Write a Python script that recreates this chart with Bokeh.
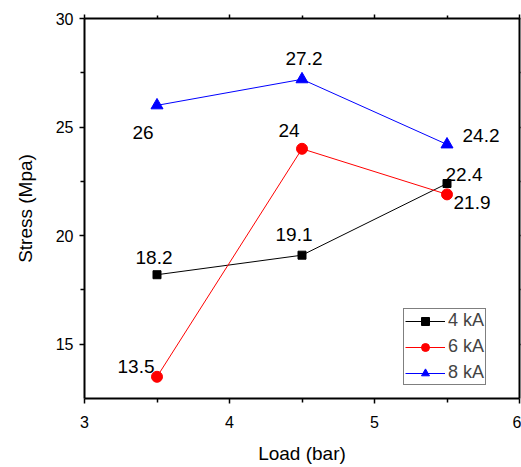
from bokeh.plotting import figure
from bokeh.models import (LinearAxis, FixedTicker, ColumnDataSource, Legend, LegendItem, Range1d,
                          CustomJSTickFormatter)
from bokeh.embed import file_html
from bokeh.resources import INLINE
from bokeh.core.properties import value

# ---- data ----
load = [3.5, 4.5, 5.5]
stress_4kA = [18.2, 19.1, 22.4]
stress_6kA = [13.5, 24.0, 21.9]
stress_8kA = [26.0, 27.2, 24.2]
labels_4kA = ["18.2", "19.1", "22.4"]
labels_6kA = ["13.5", "24", "21.9"]
labels_8kA = ["26", "27.2", "24.2"]
series_names = ["4 kA", "6 kA", "8 kA"]
x_ticks = [3, 4, 5, 6]
y_ticks = [15, 20, 25, 30]

# label offsets (screen px) - style only
off_4 = ([-3, -8, 17], [-17, -21, -9])
off_6 = ([-21, -13, 25], [-10, -18, 8])
off_8 = ([-14, 2, 34], [27, -21, -9])

FONT = "Liberation Sans"

p = figure(frame_width=435, frame_height=380, output_backend="svg", toolbar_location=None,
           x_range=Range1d(3, 6), y_range=Range1d(12.5, 30),
           min_border_left=84, min_border_right=2, min_border_top=18, min_border_bottom=40,
           x_axis_label="Load (bar)", y_axis_label="Stress (Mpa)")
p.xgrid.visible = False
p.ygrid.visible = False
p.outline_line_color = None
p.background_fill_color = "white"
p.border_fill_color = "white"

def style_axis(ax, ticks, minor, labels=True):
    ax.ticker = FixedTicker(ticks=ticks, minor_ticks=minor)
    ax.axis_line_width = 2
    ax.axis_line_color = "black"
    ax.major_tick_line_width = 1.5
    ax.minor_tick_line_width = 1.5
    ax.major_tick_in = 0
    ax.minor_tick_in = 0
    ax.major_tick_out = 5
    ax.minor_tick_out = 4
    ax.major_label_text_font = FONT
    ax.major_label_text_font_size = "16px"
    ax.major_label_text_color = "black"
    ax.axis_label_text_font = FONT
    ax.axis_label_text_font_size = "19px"
    ax.axis_label_text_font_style = "normal"
    ax.axis_label_text_color = "black"
    if not labels:
        ax.formatter = CustomJSTickFormatter(code="return ''")
        ax.major_label_standoff = 0

xminor = [3.5, 4.5, 5.5]
yminor = [17.5, 22.5, 27.5]
style_axis(p.xaxis[0], x_ticks, xminor)
style_axis(p.yaxis[0], y_ticks, yminor)
p.xaxis[0].major_label_standoff = 12
p.xaxis[0].axis_label_standoff = 12
p.yaxis[0].major_label_standoff = 6
p.yaxis[0].axis_label_standoff = 17

top = LinearAxis()
style_axis(top, x_ticks, xminor, labels=False)
top.major_tick_out = 4
top.minor_tick_out = 3
p.add_layout(top, "above")
right = LinearAxis()
style_axis(right, y_ticks, yminor, labels=False)
right.major_tick_out = 1
right.minor_tick_out = 1
p.add_layout(right, "right")

colors = ["black", "red", "blue"]
series = [stress_4kA, stress_6kA, stress_8kA]
labels = [labels_4kA, labels_6kA, labels_8kA]
offs = [off_4, off_6, off_8]
items = []
for i in range(3):
    src = ColumnDataSource(dict(x=load, y=series[i], t=labels[i], dx=offs[i][0], dy=offs[i][1]))
    ln = p.line("x", "y", source=src, line_color=colors[i], line_width=1)
    if i == 0:
        mk = p.scatter("x", "y", source=src, marker="square", size=8, color=colors[i])
    elif i == 1:
        mk = p.scatter("x", "y", source=src, marker="circle", size=11, color=colors[i])
    else:
        mk = p.scatter("x", "y", source=src, marker="triangle", size=12, color=colors[i])
    p.text("x", "y", text="t", source=src, x_offset="dx", y_offset="dy",
           text_align="center", text_baseline="middle", text_font=value(FONT),
           text_font_size="19px", text_color="black")
    items.append(LegendItem(label=series_names[i], renderers=[ln, mk]))

legend = Legend(items=items, location=(319, 13), margin=0, padding=1, spacing=5,
                glyph_width=40, glyph_height=20, label_standoff=3, label_height=20,
                label_text_font=FONT, label_text_font_size="18px",
                border_line_color="black", border_line_width=1,
                background_fill_alpha=1)
p.add_layout(legend, "center")

open("out.html", "w").write(file_html(p, INLINE))
